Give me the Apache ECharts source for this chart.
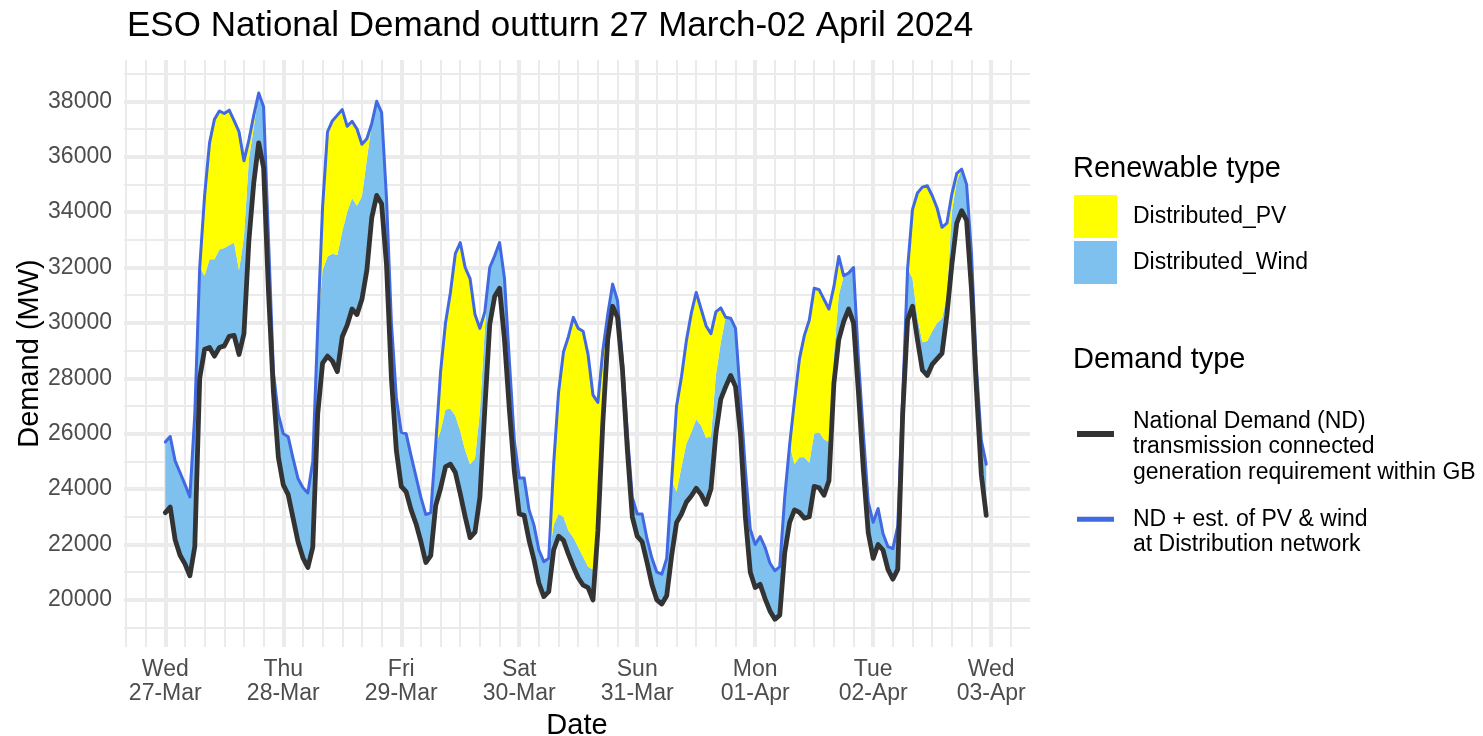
<!DOCTYPE html>
<html>
<head>
<meta charset="utf-8">
<title>ESO National Demand outturn</title>
<script src="https://cdn.jsdelivr.net/npm/echarts@6/dist/echarts.min.js"></script>
<style>
  html, body { margin: 0; padding: 0; background: #fff; }
  #main { width: 1483px; height: 736px; }
</style>
</head>
<body>
<div id="main"></div>
<script>
// hourly values (MW), hour 0 = Wed 27-Mar 00:00
const ndOutturn = [
  23150, 23350, 22170, 21610, 21300, 20870, 21920, 28000, 29050, 29110, 28800, 29110, 29170, 29510, 29550, 28860, 29610, 32950, 35060, 36500, 35600, 31100, 27500, 25150, // Wed
  24150, 23800, 22950, 22100, 21520, 21170, 21900, 26700, 28550, 28800, 28620, 28240, 29500, 29920, 30500, 30300, 30850, 31900, 33800, 34600, 34300, 32100, 28000, 25400, // Thu
  24100, 23900, 23250, 22750, 22100, 21350, 21600, 23400, 24030, 24800, 24900, 24600, 23830, 23000, 22250, 22450, 23700, 26900, 29950, 30950, 31250, 29400, 26850, 24650, // Fri
  23100, 23050, 22150, 21450, 20600, 20120, 20300, 21800, 22300, 22150, 21650, 21200, 20800, 20530, 20440, 20000, 22500, 26380, 29400, 30600, 30200, 28300, 25400, 23000, // Sat
  22300, 22100, 21350, 20550, 20000, 19850, 20150, 21600, 22790, 23100, 23530, 23750, 24030, 23800, 23450, 24000, 26000, 27250, 27700, 28100, 27700, 26000, 23000, 21000, // Sun
  20450, 20560, 20050, 19600, 19300, 19450, 21700, 22800, 23250, 23160, 22950, 23000, 24100, 24050, 23780, 24300, 27800, 29400, 30050, 30500, 30000, 27500, 24700, 22420, // Mon
  21500, 22000, 21800, 21100, 20750, 21100, 26700, 30100, 30600, 29400, 28300, 28100, 28500, 28700, 28900, 30300, 32100, 33600, 34050, 33700, 31200, 27600, 24520, 23050  // Tue
]

// top of the distributed wind band (ND + wind)
const ndPlusWind = [
  25700, 25900, 25020, 24600, 24170, 23720, 26700, 32000, 31700, 32300, 32300, 32650, 32700, 32800, 32900, 31900, 33100, 35900, 37050, 38300, 37800, 33000, 28200, 26700,
  26000, 25890, 25100, 24380, 24050, 23860, 25000, 29800, 31900, 32400, 32500, 32450, 33300, 34000, 34500, 34230, 34570, 35900, 37200, 38000, 37600, 34500, 30000, 27300,
  26050, 26000, 25200, 24450, 23700, 23080, 23150, 25600, 26100, 26870, 26900, 26650, 26100, 25400, 24900, 25100, 26800, 29800, 32000, 32420, 32900, 31600, 28600, 25760,
  24400, 24400, 23250, 22700, 21800, 21380, 21500, 22700, 23100, 23000, 22500, 22250, 21900, 21550, 21200, 21100, 22700, 26800, 30300, 31400, 30800, 28600, 26000, 23700,
  23100, 23100, 22200, 21500, 21000, 20930, 21500, 24300, 23900, 24800, 25640, 26050, 26510, 26300, 25850, 25900, 28100, 29300, 30200, 30170, 29800, 27300, 24700, 22550,
  22000, 22290, 21900, 21330, 21050, 21200, 23700, 25600, 24900, 25150, 25150, 24950, 26000, 26050, 25800, 25700, 28800, 31000, 31700, 31800, 32000, 28700, 26000, 23530,
  22800, 23300, 22400, 21920, 21850, 22670, 27300, 31960, 31600, 30200, 29300, 29350, 29700, 30000, 30150, 31000, 34000, 35100, 35550, 35000, 32500, 28400, 25760, 24900
]

// ND + est. of PV & wind (blue line, top of the PV band)
const ndPlusWindPv = [
  25700, 25900, 25020, 24600, 24170, 23720, 26700, 32000, 34600, 36500, 37350, 37650, 37560, 37680, 37300, 36900, 35850, 36600, 37500, 38300, 37800, 33000, 28200, 26700,
  26000, 25890, 25100, 24380, 24050, 23860, 25000, 29800, 34200, 36900, 37300, 37500, 37700, 37100, 37280, 37000, 36450, 36650, 37200, 38000, 37600, 34500, 30000, 27300,
  26050, 26000, 25200, 24450, 23700, 23080, 23150, 25600, 28240, 30000, 31100, 32500, 32900, 32000, 31600, 30300, 29800, 30400, 32000, 32420, 32900, 31600, 28600, 25760,
  24400, 24400, 23250, 22700, 21800, 21380, 21500, 24900, 27500, 28950, 29500, 30200, 29800, 29700, 28860, 27400, 27130, 29000, 30300, 31400, 30800, 28600, 26000, 23700,
  23100, 23100, 22200, 21500, 21000, 20930, 21500, 24300, 27000, 28050, 29360, 30350, 31100, 30500, 29900, 29610, 30400, 30540, 30200, 30170, 29800, 27300, 24700, 22550,
  22000, 22290, 21900, 21330, 21050, 21200, 23700, 25600, 27200, 28700, 29550, 30100, 31250, 31200, 30850, 30500, 31300, 32400, 31700, 31800, 32000, 28700, 26000, 23530,
  22800, 23300, 22400, 21920, 21850, 22670, 27300, 31960, 34100, 34690, 34900, 34950, 34600, 34150, 33450, 33600, 34650, 35400, 35550, 35000, 32500, 28400, 25760, 24900
]

const dayTicks = [0, 24, 48, 72, 96, 120, 144, 168]   // hours from start
const dayLabels = ['Wed\n27-Mar', 'Thu\n28-Mar', 'Fri\n29-Mar', 'Sat\n30-Mar', 'Sun\n31-Mar', 'Mon\n01-Apr', 'Tue\n02-Apr', 'Wed\n03-Apr']
const yTicks = [20000, 22000, 24000, 26000, 28000, 30000, 32000, 34000, 36000, 38000]

const ndName = 'National Demand (ND)\ntransmission connected\ngeneration requirement within GB'
const totalName = 'ND + est. of PV & wind\nat Distribution network'

const font = '"Liberation Sans", Arial, sans-serif'
const gridColor = '#ebebeb'
const start = Date.UTC(2024, 2, 27)
const HOUR = 3600 * 1000
const xMin = -8.4, xMax = 175.9   // hours, ggplot's 5% expansion

var myChart = echarts.init(document.getElementById('main'))

// data go on a hidden time axis (stacking needs a non-value base axis)
const t = i => start + i * HOUR
const base = ndOutturn.map((v, i) => [t(i), v])
const windBand = ndPlusWind.map((v, i) => [t(i), v - ndOutturn[i]])
const pvBand = ndPlusWindPv.map((v, i) => [t(i), v - ndPlusWind[i]])
const totalLine = ndPlusWindPv.map((v, i) => [t(i), v])

// ggplot style grid: major every day / 2000 MW, minor every 4 h / odd 1000 MW
var gridLines = []
for (let h = -8; h <= 172; h += 4) {
    gridLines.push({ xAxis: h, lineStyle: { width: h % 24 === 0 ? 4 : 2 } })
}
for (let v = 19000; v <= 39000; v += 1000) {
    gridLines.push({ yAxis: v, lineStyle: { width: v % 2000 === 0 ? 4 : 2 } })
}

const legendText = { fontSize: 23, lineHeight: 25.5, color: '#000', fontFamily: font }

const option = {
    animation: false,
    textStyle: { fontFamily: font },
    title: [
        { text: 'ESO National Demand outturn 27 March-02 April 2024', left: 127, top: 9, padding: 0,
          textStyle: { fontSize: 35, fontWeight: 'normal', color: '#000', fontFamily: font, lineHeight: 35 } },
        { text: 'Renewable type', left: 1073, top: 154, padding: 0,
          textStyle: { fontSize: 29, fontWeight: 'normal', color: '#000', fontFamily: font, lineHeight: 29 } },
        { text: 'Demand type', left: 1073, top: 345, padding: 0,
          textStyle: { fontSize: 29, fontWeight: 'normal', color: '#000', fontFamily: font, lineHeight: 29 } }
    ],
    legend: [
        {
            data: [{ name: 'Distributed_PV', icon: 'rect' }, { name: 'Distributed_Wind', icon: 'rect' }],
            orient: 'vertical', left: 1074, top: 195, padding: 0,
            itemWidth: 43, itemHeight: 43, itemGap: 3, selectedMode: false,
            itemStyle: { borderWidth: 0 },
            textStyle: Object.assign({}, legendText, { padding: [2, 0, 0, 11] })
        },
        {
            // leading blank line keeps the key level with the first text line
            data: [{ name: ndName, icon: 'rect' }],
            formatter: name => '\n' + name,
            left: 1077, top: 383, padding: 0,
            itemWidth: 37, itemHeight: 6, selectedMode: false,
            itemStyle: { borderWidth: 0 },
            textStyle: Object.assign({}, legendText, { padding: [0, 0, 0, 14] })
        },
        {
            data: [{ name: totalName, icon: 'rect' }],
            formatter: name => '\n' + name,
            left: 1077, top: 481, padding: 0,
            itemWidth: 37, itemHeight: 5, selectedMode: false,
            itemStyle: { borderWidth: 0 },
            textStyle: Object.assign({}, legendText, { padding: [0, 0, 0, 14] })
        }
    ],
    grid: { left: 124, top: 60, width: 906, height: 587, containLabel: false, outerBoundsMode: 'none' },
    xAxis: [
        {
            type: 'value', min: xMin, max: xMax,
            axisLine: { show: false }, axisTick: { show: false }, splitLine: { show: false },
            axisLabel: {
                customValues: dayTicks,
                formatter: v => dayLabels[dayTicks.indexOf(v)] || '',
                color: '#4d4d4d', fontSize: 23, lineHeight: 24, margin: 11, fontFamily: font
            },
            name: 'Date', nameLocation: 'middle', nameGap: 64, nameMoveOverlap: false,
            nameTextStyle: { fontSize: 29, color: '#000', fontFamily: font }
        },
        { type: 'time', min: t(xMin), max: t(xMax), show: false }
    ],
    yAxis: {
        type: 'value', min: 18300, max: 39490,
        axisLine: { show: false }, axisTick: { show: false }, splitLine: { show: false },
        axisLabel: {
            customValues: yTicks,
            formatter: v => String(v),
            color: '#4d4d4d', fontSize: 23, margin: 12, fontFamily: font
        },
        name: 'Demand (MW)', nameLocation: 'middle', nameGap: 80, nameRotate: 90, nameMoveOverlap: false,
        nameTextStyle: { fontSize: 29, color: '#000', fontFamily: font }
    },
    series: [
        {
            type: 'line', data: [], silent: true, z: 1, xAxisIndex: 0,
            markLine: { z: 1, silent: true, symbol: 'none', label: { show: false },
                lineStyle: { color: gridColor, type: 'solid' }, data: gridLines }
        },
        {
            name: 'base', type: 'line', stack: 'ren', data: base, symbol: 'none', silent: true, z: 2,
            xAxisIndex: 1, lineStyle: { width: 0, opacity: 0 }
        },
        {
            name: 'Distributed_Wind', type: 'line', stack: 'ren', data: windBand, symbol: 'none', z: 2,
            xAxisIndex: 1, color: '#7ec0ee', itemStyle: { color: '#7ec0ee' },
            lineStyle: { width: 0, opacity: 0 }, areaStyle: { color: '#7ec0ee', opacity: 1 }
        },
        {
            name: 'Distributed_PV', type: 'line', stack: 'ren', data: pvBand, symbol: 'none', z: 2,
            xAxisIndex: 1, color: '#ffff00', itemStyle: { color: '#ffff00' },
            lineStyle: { width: 0, opacity: 0 }, areaStyle: { color: '#ffff00', opacity: 1 }
        },
        {
            name: totalName, type: 'line', data: totalLine, symbol: 'none', z: 4,
            xAxisIndex: 1, color: '#4169e1', itemStyle: { color: '#4169e1' },
            lineStyle: { width: 3, color: '#4169e1', join: 'round', cap: 'round' }
        },
        {
            name: ndName, type: 'line', data: base, symbol: 'none', z: 5,
            xAxisIndex: 1, color: '#333333', itemStyle: { color: '#333333' },
            lineStyle: { width: 4.8, color: '#333333', join: 'round', cap: 'round' }
        }
    ]
}

myChart.setOption(option)
</script>
</body>
</html>
